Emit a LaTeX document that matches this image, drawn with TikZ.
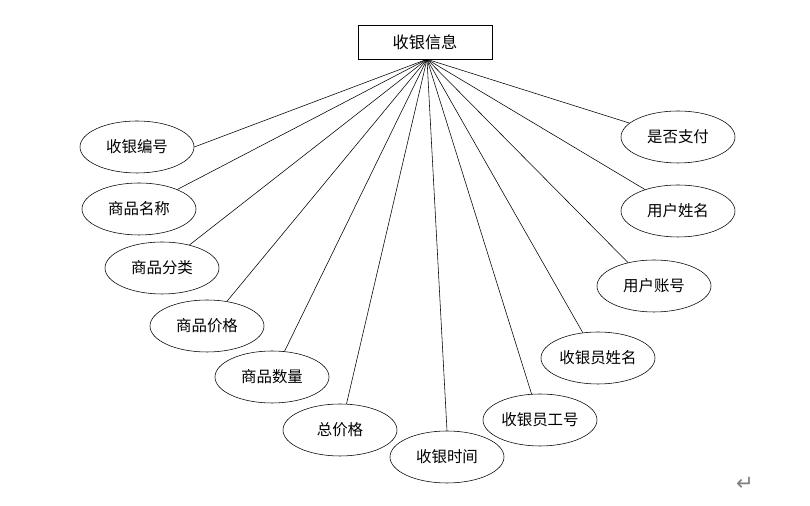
\documentclass[tikz,border=0pt]{standalone}
\usepackage{fontspec}
\setmainfont{Noto Sans CJK SC}
\newfontfamily\symfont{DejaVu Sans}
\usetikzlibrary{shapes.geometric}

\begin{document}
\begin{tikzpicture}[
        attr/.style={draw, ellipse, thin, minimum width=2.85cm, minimum height=1.3cm, inner sep=0pt, font=\fontsize{11}{13}\selectfont},
        entity/.style={draw, thin, minimum width=3.35cm, minimum height=0.85cm, inner sep=0pt, font=\fontsize{11.5}{13}\selectfont}]
    \useasboundingbox (0,0) rectangle (20.25,12.65);
    % The entity box on top.
        \node[entity] (info) at (10.625, 11.6) {收银信息};
        \coordinate (hub) at ([xshift=0.05cm]info.south);
    % Below nodes are the attributes, left side then right side.
        \node[attr] (bianhao) at (3.425, 8.975) {收银编号};
        \node[attr] (mingcheng) at (3.475, 7.425) {商品名称};
        \node[attr] (fenlei) at (4.05, 5.95) {商品分类};
        \node[attr] (jiage) at (5.175, 4.5) {商品价格};
        \node[attr] (shuliang) at (6.8, 3.225) {商品数量};
        \node[attr] (zongjia) at (8.5, 1.9) {总价格};
        \node[attr] (shijian) at (11.175, 1.225) {收银时间};
        \node[attr] (gonghao) at (13.5, 2.15) {收银员工号};
        \node[attr] (yxingming) at (14.95, 3.7) {收银员姓名};
        \node[attr] (zhanghao) at (16.35, 5.5) {用户账号};
        \node[attr] (yonghu) at (16.95, 7.375) {用户姓名};
        \node[attr] (zhifu) at (16.95, 9.225) {是否支付};
    % This draws the lines from the box, each to its point on the ellipse.
        \foreach \a/\ang in {bianhao/0,mingcheng/27,fenlei/40,jiage/51,shuliang/64,zongjia/76,shijian/90,gonghao/108,yxingming/121,zhanghao/138,yonghu/147,zhifu/164}
            \draw[thin] (hub) -- (\a.\ang);
    % Paragraph mark.
        \node[text=gray, font=\symfont\fontsize{15}{17}\selectfont] (mark) at (18.625, 0.55) {↵};
\end{tikzpicture}
\end{document}
